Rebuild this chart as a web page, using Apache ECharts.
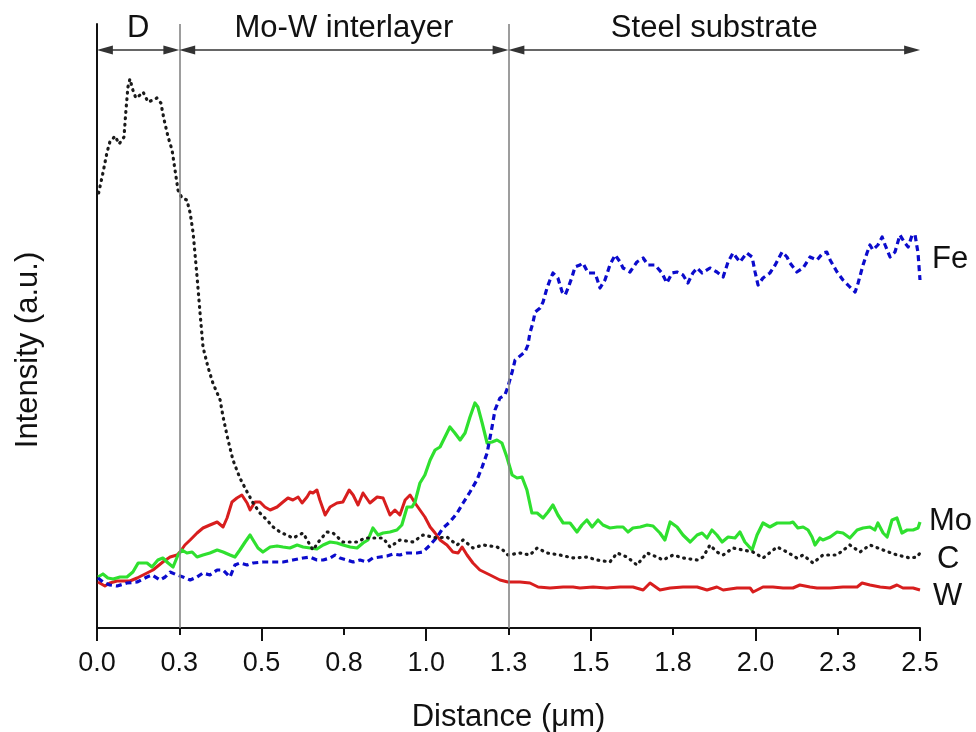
<!DOCTYPE html>
<html><head><meta charset="utf-8">
<script src="https://cdn.jsdelivr.net/npm/echarts@6/dist/echarts.min.js"></script>
<style>html,body{margin:0;padding:0;background:#fff}#chart{width:976px;height:732px}</style>
</head><body><div id="chart"></div>
<script>
const FONT = "'Liberation Sans', Arial, Helvetica, sans-serif";

// x-axis tick labels (ticks every 0.25 µm, labels rounded to one decimal as in the original)
const xTickLabels = ['0.0','0.3','0.5','0.8','1.0','1.3','1.5','1.8','2.0','2.3','2.5'];
// regions across the depth profile
const regionNames = ['D', 'Mo-W interlayer', 'Steel substrate'];
const regionBounds = [0, 0.25, 1.25, 2.5];
const arrowLevel = 578;       // intensity level at which the region arrows are drawn
const elementNames = ['W', 'Mo', 'Fe', 'C'];

// Distance (µm), Intensity (a.u.)
const carbon = [
[0.005,435],[0.018,455],[0.030,475],[0.039,486],[0.055,492],[0.067,484],[0.082,491],[0.088,518],[0.094,541],[0.100,549],
[0.109,538],[0.118,530],[0.131,533],[0.140,536],[0.155,526],[0.170,528],[0.182,530],[0.194,525],[0.204,508],[0.216,491],
[0.228,478],[0.237,458],[0.246,438],[0.258,430],[0.273,428],[0.283,415],[0.292,395],[0.304,351],[0.313,315],[0.322,281],
[0.337,261],[0.352,245],[0.374,228],[0.383,211],[0.398,188],[0.413,168],[0.434,150],[0.453,138],[0.474,125],[0.495,115],
[0.516,108],[0.535,101],[0.556,96],[0.595,90],[0.626,95],[0.656,78],[0.677,88],[0.699,96],[0.717,95],[0.747,86],
[0.790,86],[0.814,90],[0.838,90],[0.869,90],[0.890,81],[0.920,88],[0.960,86],[0.990,93],[1.033,90],[1.063,91],
[1.094,83],[1.112,88],[1.142,80],[1.173,83],[1.215,81],[1.233,78],[1.248,73],[1.285,75],[1.315,73],[1.337,80],
[1.367,75],[1.406,73],[1.446,70],[1.488,71],[1.519,68],[1.558,66],[1.580,75],[1.610,71],[1.640,63],[1.671,75],
[1.701,71],[1.719,68],[1.750,73],[1.780,70],[1.823,68],[1.841,71],[1.862,83],[1.883,76],[1.902,73],[1.932,80],
[1.962,78],[1.993,76],[2.023,70],[2.066,81],[2.096,76],[2.126,70],[2.145,73],[2.175,65],[2.205,73],[2.248,73],
[2.287,83],[2.318,76],[2.348,83],[2.388,78],[2.430,73],[2.470,70],[2.491,71],[2.500,75]
];
const tungsten = [
[0.003,46],[0.024,42],[0.039,45],[0.061,47],[0.100,47],[0.122,50],[0.152,55],[0.170,58],[0.200,66],[0.222,71],
[0.243,73],[0.252,76],[0.267,83],[0.283,88],[0.304,95],[0.322,100],[0.343,103],[0.365,106],[0.383,101],[0.395,110],
[0.410,126],[0.425,130],[0.440,133],[0.456,125],[0.465,118],[0.480,126],[0.495,126],[0.510,121],[0.526,118],[0.547,121],
[0.565,126],[0.580,130],[0.595,128],[0.611,131],[0.623,125],[0.638,131],[0.647,136],[0.656,135],[0.668,138],[0.677,128],
[0.693,113],[0.708,121],[0.729,125],[0.747,126],[0.766,138],[0.778,133],[0.793,123],[0.808,135],[0.829,125],[0.851,131],
[0.869,130],[0.890,113],[0.905,118],[0.920,113],[0.936,128],[0.951,133],[0.966,125],[0.981,118],[0.996,111],[1.012,101],
[1.027,95],[1.042,88],[1.063,83],[1.081,76],[1.097,75],[1.109,81],[1.124,73],[1.142,65],[1.163,58],[1.194,53],
[1.224,48],[1.248,46],[1.285,46],[1.315,45],[1.340,41],[1.376,40],[1.416,41],[1.446,41],[1.467,40],[1.507,41],
[1.549,40],[1.589,41],[1.628,41],[1.659,38],[1.680,45],[1.710,38],[1.741,40],[1.780,41],[1.823,41],[1.853,38],
[1.883,41],[1.902,38],[1.944,40],[1.984,40],[1.993,36],[2.023,41],[2.053,41],[2.084,40],[2.114,40],[2.135,43],
[2.166,41],[2.187,40],[2.227,40],[2.266,41],[2.309,41],[2.324,45],[2.348,43],[2.379,41],[2.409,40],[2.430,43],
[2.448,40],[2.479,40],[2.500,38]
];
const molybdenum = [
[0.003,51],[0.018,54],[0.033,50],[0.049,49],[0.070,51],[0.091,51],[0.109,56],[0.125,65],[0.152,65],[0.167,61],
[0.185,68],[0.200,70],[0.216,65],[0.231,61],[0.246,73],[0.258,78],[0.273,75],[0.289,76],[0.304,71],[0.322,73],
[0.343,75],[0.365,78],[0.383,76],[0.404,73],[0.419,71],[0.434,78],[0.450,86],[0.465,93],[0.474,88],[0.489,80],
[0.504,76],[0.526,81],[0.547,82],[0.565,81],[0.586,80],[0.608,83],[0.626,81],[0.647,80],[0.668,79],[0.687,83],
[0.708,86],[0.729,85],[0.747,83],[0.769,81],[0.790,80],[0.808,85],[0.823,88],[0.838,100],[0.854,93],[0.869,95],
[0.890,96],[0.911,98],[0.926,103],[0.942,121],[0.957,121],[0.966,126],[0.981,145],[0.996,153],[1.012,168],[1.027,178],
[1.042,181],[1.057,191],[1.072,201],[1.087,195],[1.103,188],[1.118,195],[1.133,211],[1.148,225],[1.157,221],[1.170,205],
[1.185,185],[1.200,186],[1.215,188],[1.230,185],[1.245,171],[1.261,153],[1.276,150],[1.291,151],[1.306,138],[1.321,115],
[1.337,115],[1.355,110],[1.370,116],[1.385,123],[1.400,113],[1.416,105],[1.437,105],[1.458,96],[1.473,103],[1.488,108],
[1.504,101],[1.522,108],[1.537,103],[1.558,100],[1.580,101],[1.598,101],[1.613,96],[1.628,100],[1.650,101],[1.671,103],
[1.689,102],[1.710,95],[1.725,88],[1.741,106],[1.762,101],[1.780,93],[1.802,86],[1.823,93],[1.838,95],[1.853,90],
[1.868,98],[1.883,93],[1.899,86],[1.917,91],[1.938,90],[1.953,96],[1.968,86],[1.990,78],[2.005,93],[2.023,105],
[2.044,101],[2.066,105],[2.084,105],[2.105,105],[2.114,106],[2.129,100],[2.145,101],[2.160,98],[2.172,91],[2.181,83],
[2.196,90],[2.205,88],[2.227,91],[2.248,96],[2.266,95],[2.287,90],[2.309,98],[2.327,100],[2.348,101],[2.363,98],
[2.372,105],[2.388,95],[2.400,91],[2.415,108],[2.430,110],[2.445,95],[2.461,98],[2.479,98],[2.494,100],[2.500,106]
];
const iron = [
[0.003,50],[0.018,46],[0.039,43],[0.061,42],[0.091,45],[0.122,46],[0.152,51],[0.167,53],[0.191,48],[0.207,51],
[0.222,56],[0.243,53],[0.261,51],[0.283,48],[0.304,51],[0.322,55],[0.343,53],[0.365,58],[0.383,58],[0.404,51],
[0.419,63],[0.434,65],[0.456,63],[0.474,65],[0.504,66],[0.535,66],[0.565,66],[0.595,68],[0.626,70],[0.647,71],
[0.668,68],[0.687,68],[0.708,70],[0.723,73],[0.738,70],[0.759,68],[0.778,66],[0.799,68],[0.820,66],[0.838,70],
[0.860,71],[0.881,72],[0.899,74],[0.920,73],[0.942,75],[0.972,75],[0.990,76],[1.012,83],[1.033,91],[1.051,100],
[1.072,106],[1.094,115],[1.112,125],[1.133,136],[1.154,148],[1.170,161],[1.185,175],[1.200,201],[1.209,218],[1.224,230],
[1.239,233],[1.248,241],[1.261,256],[1.270,268],[1.300,276],[1.309,283],[1.315,295],[1.324,305],[1.331,316],[1.346,320],
[1.355,326],[1.367,340],[1.376,348],[1.385,355],[1.400,350],[1.413,336],[1.422,333],[1.431,340],[1.443,351],[1.452,361],
[1.467,363],[1.476,365],[1.492,355],[1.513,355],[1.528,340],[1.543,348],[1.558,363],[1.574,373],[1.589,366],[1.598,360],
[1.619,356],[1.640,366],[1.659,370],[1.674,363],[1.695,363],[1.716,355],[1.731,345],[1.747,355],[1.762,356],[1.780,353],
[1.795,345],[1.810,355],[1.823,360],[1.838,355],[1.862,360],[1.883,356],[1.902,351],[1.917,366],[1.932,375],[1.953,366],
[1.974,375],[1.990,371],[1.999,356],[2.008,343],[2.023,350],[2.044,355],[2.060,363],[2.081,376],[2.096,371],[2.105,365],
[2.126,356],[2.145,360],[2.166,371],[2.187,368],[2.205,375],[2.217,376],[2.227,368],[2.248,356],[2.266,348],[2.287,341],
[2.303,336],[2.312,345],[2.327,363],[2.339,375],[2.348,383],[2.357,378],[2.372,383],[2.385,391],[2.394,383],[2.409,371],
[2.424,376],[2.439,393],[2.454,385],[2.464,381],[2.476,393],[2.485,393],[2.494,375],[2.500,348]
];

const chart = echarts.init(document.getElementById('chart'));

const arrowInset = 0.024; // half an arrow-head length, in µm
const arrowSym = { symbol: 'triangle', symbolSize: [9, 16] };
const markLineData = [];
// region separators
for (let i = 1; i < regionBounds.length - 1; i++) {
  markLineData.push({ xAxis: regionBounds[i], symbol: 'none',
    lineStyle: { color: '#858585', width: 1.6, type: 'solid' }, label: { show: false } });
}
// region arrows with names
for (let i = 0; i < regionNames.length; i++) {
  markLineData.push([
    Object.assign({ coord: [regionBounds[i] + arrowInset, arrowLevel],
      lineStyle: { color: '#333', width: 1.5, type: 'solid' },
      label: { show: true, formatter: regionNames[i], position: 'insideMiddleTop', distance: 6,
               fontSize: 31, fontFamily: FONT, color: '#111' } }, arrowSym),
    Object.assign({ coord: [regionBounds[i + 1] - arrowInset, arrowLevel] }, arrowSym)
  ]);
}

function lineSeries(name, data, color, width, dash, cap, labelOffset) {
  return {
    type: 'line', name: name, data: data, showSymbol: false, symbol: 'none',
    lineStyle: { color: color, width: width, type: dash, cap: cap || 'butt', join: 'round' },
    itemStyle: { color: color },
    endLabel: { show: true, formatter: name, distance: 0, offset: labelOffset,
      align: 'left', verticalAlign: 'middle', fontSize: 31, fontFamily: FONT, color: '#111' },
    z: 3
  };
}

chart.setOption({
  animation: false,
  backgroundColor: '#fff',
  grid: { left: 97, right: 56, top: 24, bottom: 104, containLabel: false, outerBoundsMode: 'none' },
  xAxis: [{
    type: 'value', min: 0, max: 2.5, interval: 0.25,
    axisLine: { show: true, onZero: false, lineStyle: { color: '#111', width: 2 } },
    axisTick: { show: true, length: 7, lineStyle: { color: '#111', width: 2 } },
    axisLabel: { show: true, margin: 22, fontSize: 27, fontFamily: FONT, color: '#111',
      formatter: v => xTickLabels[Math.round(v / 0.25)] },
    splitLine: { show: false },
    name: 'Distance (\u03bcm)', nameLocation: 'middle', nameGap: 74,
    nameTextStyle: { fontSize: 31, fontFamily: FONT, color: '#111' }
  }, {
    type: 'value', min: 0, max: 2.5, interval: 0.5, position: 'bottom',
    axisLine: { show: false, onZero: false },
    axisTick: { show: true, length: 13, lineStyle: { color: '#111', width: 2 } },
    axisLabel: { show: false }, splitLine: { show: false }
  }],
  yAxis: {
    type: 'value', min: 0, max: 604,
    axisLine: { show: true, onZero: false, lineStyle: { color: '#111', width: 2 } },
    axisTick: { show: false }, axisLabel: { show: false }, splitLine: { show: false }
  },
  graphic: [{
    type: 'text', x: 28, y: 350, rotation: Math.PI / 2,
    style: { text: 'Intensity (a.u.)', fill: '#111', fontSize: 31, fontFamily: FONT,
             align: 'center', verticalAlign: 'middle', textAlign: 'center', textVerticalAlign: 'middle' }
  }],
  series: [
    { type: 'line', name: 'annotations', data: [], silent: true, z: 1,
      markLine: { silent: true, symbol: 'none', animation: false, data: markLineData } },
    lineSeries(elementNames[0], tungsten, '#d81e1e', 3, 'solid', 'butt', [13, 6]),
    lineSeries(elementNames[1], molybdenum, '#2fe02f', 3.2, 'solid', 'butt', [9, -1]),
    lineSeries(elementNames[2], iron, '#0b0bcc', 3.2, [6, 4], 'butt', [12, -21]),
    lineSeries(elementNames[3], carbon, '#1a1a1a', 3.2, [0.8, 5.6], 'round', [17, 6])
  ]
});
</script>
</body></html>
